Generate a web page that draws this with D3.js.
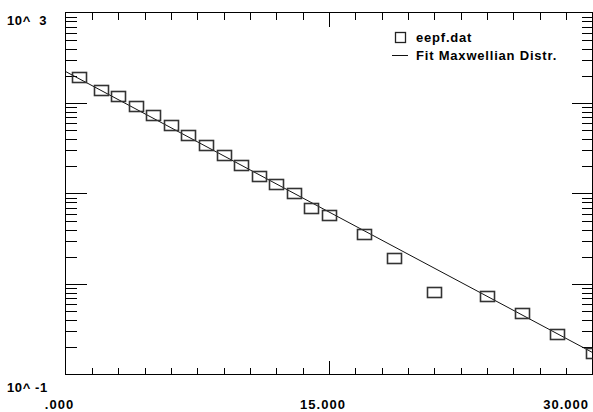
<!DOCTYPE html>
<html>
<head>
<meta charset="utf-8">
<script src="https://cdn.jsdelivr.net/npm/d3@7"></script>
<style>
  html, body { margin: 0; padding: 0; background: #fff; }
  svg { display: block; }
  text { font-family: "Liberation Sans", Arial, sans-serif; font-weight: bold; fill: #000; white-space: pre; }
</style>
</head>
<body>
<svg id="chart" width="593" height="412"></svg>
<script>
// Measured EEPF samples (energy, eV) and values
const energy = [0.75, 2, 3, 4, 5, 6, 7, 8, 9, 10, 11, 12, 13, 14, 15, 17, 18.7, 21, 24, 26, 28, 30];
const eepf   = [192.8, 140, 118, 91.5, 72.8, 57.4, 44.5, 34.5, 26.8, 20.5, 15.8, 12.6, 10.0, 6.88, 5.82, 3.61, 1.96, 0.826, 0.728, 0.481, 0.277, 0.175];

// Maxwellian fit: straight line on the log axis, given by its end points
const fitEnergy = [0, 30];
const fitValue  = [223, 0.175];

// Axis labels
const xTickLabels = [0, 15, 30];
const yTickLabels = ["10^  3", "10^ -1"];
const legendLabels = ["eepf.dat", "Fit Maxwellian Distr."];

const svg = d3.select("#chart");
const pLeft = 65.5, pRight = 592.5, pTop = 12.5, pBottom = 374.5;

const x = d3.scaleLinear().domain([0, 30]).range([pLeft, pRight]);
const y = d3.scaleLog().domain([0.1, 1000]).range([pBottom, pTop]);

const plot = svg.append("g");

// clip region for marks
svg.append("clipPath").attr("id", "clip")
  .append("rect").attr("x", pLeft).attr("y", pTop).attr("width", pRight - pLeft).attr("height", pBottom - pTop);

// frame
plot.append("rect")
  .attr("x", pLeft).attr("y", pTop).attr("width", pRight - pLeft).attr("height", pBottom - pTop)
  .attr("fill", "none").attr("stroke", "#000").attr("stroke-width", 1.3)
  .attr("shape-rendering", "crispEdges");

// y ticks: minor/major on left and right, pointing inward
const yTicks = y.ticks().filter(v => v > 0.1 && v < 1000);
const ticksG = plot.append("g").attr("stroke", "#000").attr("stroke-width", 1.2).attr("shape-rendering", "crispEdges");
yTicks.forEach(v => {
  const major = Math.abs(Math.log10(v) - Math.round(Math.log10(v))) < 1e-9;
  const len = major ? 21 : 11;
  const yy = Math.round(y(v)) + 0.5;
  ticksG.append("line").attr("x1", pLeft).attr("x2", pLeft + len).attr("y1", yy).attr("y2", yy);
  ticksG.append("line").attr("x1", pRight).attr("x2", pRight - len).attr("y1", yy).attr("y2", yy);
});

// x ticks: every 1.5, longer at the midpoint
const xTicks = d3.range(1.5, 30, 1.5);
xTicks.forEach(v => {
  const major = Math.abs(v - 15) < 1e-9;
  const len = major ? 14 : 7;
  const xx = Math.round(x(v)) + 0.5;
  ticksG.append("line").attr("x1", xx).attr("x2", xx).attr("y1", pBottom).attr("y2", pBottom - len);
  ticksG.append("line").attr("x1", xx).attr("x2", xx).attr("y1", pTop).attr("y2", pTop + len);
});

// fit line
const line = d3.line().x(d => x(d[0])).y(d => y(d[1]));
plot.append("path")
  .datum(fitEnergy.map((e, i) => [e, fitValue[i]]))
  .attr("d", line)
  .attr("clip-path", "url(#clip)")
  .attr("fill", "none").attr("stroke", "#111").attr("stroke-width", 1);

// data squares
const sw = 14, sh = 10;
plot.append("g").attr("clip-path", "url(#clip)")
  .selectAll("rect")
  .data(energy.map((e, i) => [e, eepf[i]]))
  .join("rect")
  .attr("x", d => Math.round(x(d[0]) - sw / 2) + 0.5)
  .attr("y", d => Math.round(y(d[1]) - sh / 2) + 0.5)
  .attr("width", sw).attr("height", sh)
  .attr("fill", "none").attr("stroke", "#333").attr("stroke-width", 1.6);

// y axis labels
const fs = 13;
svg.append("text").attr("x", 7).attr("y", 25).attr("font-size", fs).attr("letter-spacing", 0.6).text(yTickLabels[0]);
svg.append("text").attr("x", 7).attr("y", 392).attr("font-size", fs).attr("letter-spacing", 0.6).text(yTickLabels[1]);

// x axis labels
const fmt = v => d3.format(".3f")(v).replace(/^0\./, ".");
xTickLabels.forEach(v => {
  const t = svg.append("text")
    .attr("x", x(v) - 6).attr("y", 409)
    .attr("font-size", fs).attr("letter-spacing", 1)
    .attr("text-anchor", "middle")
    .text(fmt(v));
  const bb = t.node().getBBox();
  if (bb.x + bb.width > 589) t.attr("x", x(v) - 6 - (bb.x + bb.width - 589));
});

// legend
const lg = svg.append("g");
lg.append("rect").attr("x", 395.5).attr("y", 32.5).attr("width", 10).attr("height", 10)
  .attr("fill", "none").attr("stroke", "#222").attr("stroke-width", 1.3);
lg.append("text").attr("x", 416).attr("y", 42).attr("font-size", fs).attr("letter-spacing", 0.8).text(legendLabels[0]);
lg.append("line").attr("x1", 392).attr("x2", 408).attr("y1", 55.5).attr("y2", 55.5)
  .attr("stroke", "#111").attr("stroke-width", 1);
lg.append("text").attr("x", 416).attr("y", 60).attr("font-size", fs).attr("letter-spacing", 0.8).text(legendLabels[1]);
</script>
</body>
</html>
